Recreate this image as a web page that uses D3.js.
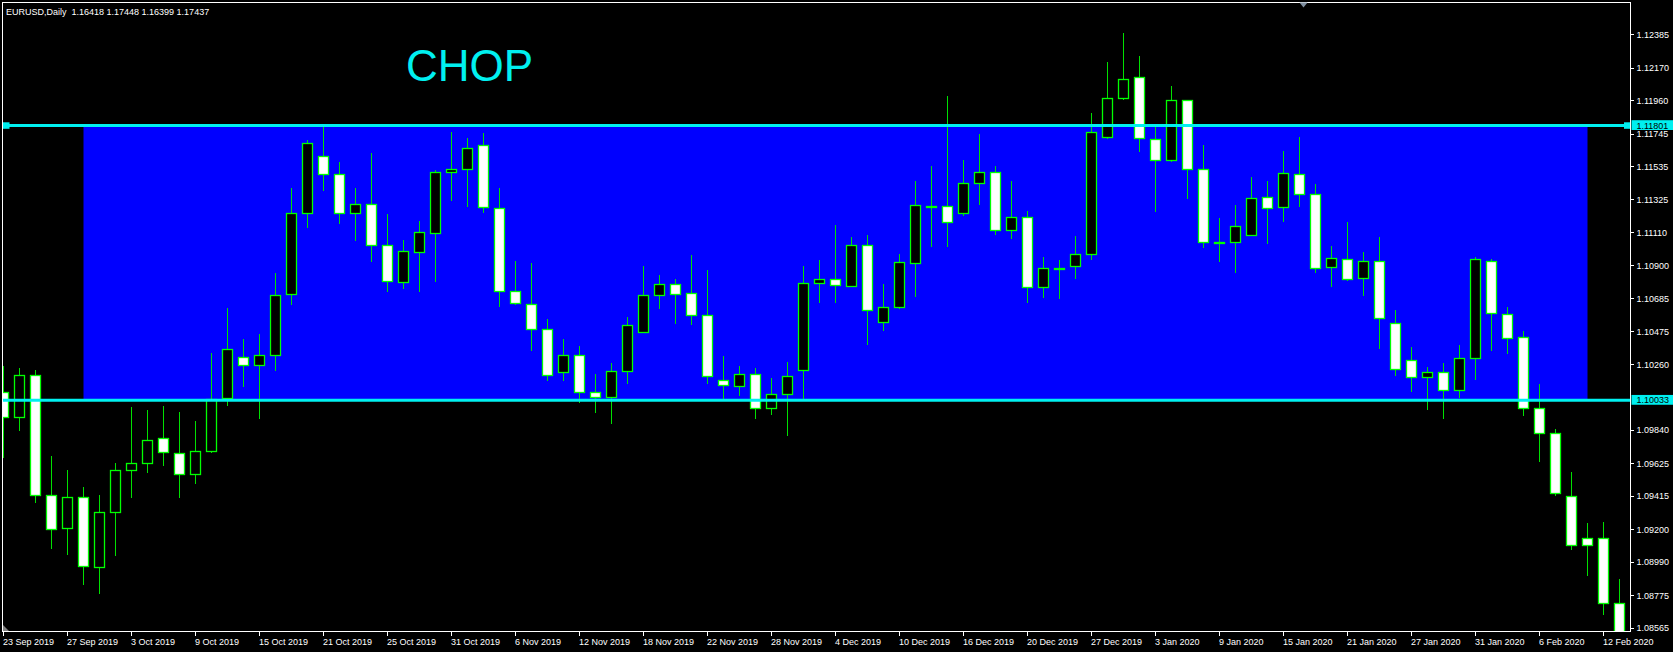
<!DOCTYPE html>
<html><head><meta charset="utf-8">
<script src="https://cdn.jsdelivr.net/npm/d3@7"></script>
<style>html,body{margin:0;padding:0;background:#000;overflow:hidden}svg{display:block}</style>
</head><body>
<script>
const dates = [
"23 Sep 2019","24 Sep 2019","25 Sep 2019","26 Sep 2019","27 Sep 2019","30 Sep 2019",
"1 Oct 2019","2 Oct 2019","3 Oct 2019","4 Oct 2019","7 Oct 2019","8 Oct 2019","9 Oct 2019","10 Oct 2019","11 Oct 2019",
"14 Oct 2019","15 Oct 2019","16 Oct 2019","17 Oct 2019","18 Oct 2019","21 Oct 2019","22 Oct 2019","23 Oct 2019","24 Oct 2019","25 Oct 2019",
"28 Oct 2019","29 Oct 2019","30 Oct 2019","31 Oct 2019",
"1 Nov 2019","4 Nov 2019","5 Nov 2019","6 Nov 2019","7 Nov 2019","8 Nov 2019","11 Nov 2019","12 Nov 2019","13 Nov 2019","14 Nov 2019","15 Nov 2019",
"18 Nov 2019","19 Nov 2019","20 Nov 2019","21 Nov 2019","22 Nov 2019","25 Nov 2019","26 Nov 2019","27 Nov 2019","28 Nov 2019","29 Nov 2019",
"2 Dec 2019","3 Dec 2019","4 Dec 2019","5 Dec 2019","6 Dec 2019","9 Dec 2019","10 Dec 2019","11 Dec 2019","12 Dec 2019","13 Dec 2019",
"16 Dec 2019","17 Dec 2019","18 Dec 2019","19 Dec 2019","20 Dec 2019","23 Dec 2019","24 Dec 2019","26 Dec 2019","27 Dec 2019","30 Dec 2019","31 Dec 2019",
"2 Jan 2020","3 Jan 2020","6 Jan 2020","7 Jan 2020","8 Jan 2020","9 Jan 2020","10 Jan 2020","13 Jan 2020","14 Jan 2020","15 Jan 2020","16 Jan 2020","17 Jan 2020",
"20 Jan 2020","21 Jan 2020","22 Jan 2020","23 Jan 2020","24 Jan 2020","27 Jan 2020","28 Jan 2020","29 Jan 2020","30 Jan 2020","31 Jan 2020",
"3 Feb 2020","4 Feb 2020","5 Feb 2020","6 Feb 2020","7 Feb 2020","10 Feb 2020","11 Feb 2020","12 Feb 2020","13 Feb 2020"
];
const open = [1.10088,1.09923,1.10195,1.09421,1.09208,1.09409,1.08959,1.09312,1.09582,1.09628,1.09793,1.09696,1.09557,1.09704,1.10045,1.10309,1.10259,1.10322,1.10717,1.11235,
1.11602,1.11488,1.11241,1.11299,1.11035,1.10791,1.10989,1.11111,1.11501,1.11518,1.11674,1.11269,1.10739,1.10653,1.10490,1.10213,1.10322,1.10083,1.10053,1.10221,
1.10470,1.10709,1.10778,1.10722,1.10579,1.10162,1.10127,1.10205,1.09986,1.10073,1.10226,1.10786,1.10811,1.10770,1.11035,1.10538,1.10630,1.10917,1.11284,1.11282,
1.11241,1.11429,1.11501,1.11126,1.11215,1.10760,1.10880,1.10900,1.10971,1.11724,1.11981,1.12116,1.11712,1.11582,1.11968,1.11518,1.11053,1.11050,1.11098,1.11338,
1.11274,1.11488,1.11358,1.10892,1.10941,1.10817,1.10926,1.10528,1.10295,1.10181,1.10217,1.10098,1.10308,1.10926,1.10585,1.10437,1.09982,1.09822,1.09414,1.09145,
1.09145,1.08726];
const high = [1.10253,1.10241,1.10228,1.09674,1.09584,1.09473,1.09421,1.09632,1.09989,1.09968,1.09999,1.09956,1.09898,1.10335,1.10627,1.10424,1.10457,1.10851,1.11399,1.11709,
1.11793,1.11569,1.11399,1.11625,1.11231,1.11065,1.11187,1.11513,1.11760,1.11722,1.11750,1.11399,1.10930,1.10915,1.10554,1.10427,1.10383,1.10203,1.10274,1.10569,
1.10898,1.10839,1.10813,1.10968,1.10872,1.10317,1.10253,1.10241,1.10177,1.10277,1.10898,1.10936,1.11162,1.11083,1.11096,1.10780,1.10973,1.11444,1.11541,1.11991,
1.11579,1.11747,1.11541,1.11444,1.11248,1.10956,1.10936,1.11091,1.11882,1.12210,1.12396,1.12248,1.11793,1.12055,1.11968,1.11678,1.11205,1.11289,1.11470,1.11444,
1.11638,1.11727,1.11424,1.11024,1.11180,1.10986,1.11084,1.10613,1.10375,1.10246,1.10270,1.10388,1.10954,1.10939,1.10636,1.10479,1.10138,1.09848,1.09571,1.09243,
1.09251,1.08883];
const low = [1.09661,1.09834,1.09371,1.09078,1.09040,1.08842,1.08786,1.09032,1.09401,1.09562,1.09612,1.09401,1.09497,1.09696,1.09999,1.10121,1.09910,1.10221,1.10648,1.11144,
1.11381,1.11170,1.11055,1.10925,1.10727,1.10752,1.10732,1.10795,1.11312,1.11279,1.11241,1.10630,1.10648,1.10352,1.10159,1.10159,1.10017,1.09948,1.09882,1.10139,
1.10468,1.10623,1.10526,1.10520,1.10139,1.10037,1.10063,1.09915,1.09936,1.09806,1.10037,1.10656,1.10658,1.10762,1.10389,1.10477,1.10620,1.10696,1.11019,1.11019,
1.11221,1.11287,1.11098,1.11068,1.10661,1.10694,1.10686,1.10816,1.10933,1.11712,1.11968,1.11632,1.11246,1.11569,1.11330,1.11014,1.10925,1.10849,1.11098,1.11040,
1.11182,1.11274,1.10854,1.10762,1.10800,1.10701,1.10360,1.10192,1.10088,1.09972,1.09915,1.10049,1.10166,1.10352,1.10329,1.09933,1.09638,1.09414,1.09072,1.08904,
1.08649,1.08510];
const close = [1.09923,1.10195,1.09421,1.09203,1.09409,1.08966,1.09312,1.09582,1.09628,1.09775,1.09699,1.09557,1.09704,1.10042,1.10360,1.10259,1.10322,1.10712,1.11235,1.11691,
1.11488,1.11241,1.11299,1.11035,1.10798,1.10991,1.11114,1.11501,1.11518,1.11653,1.11274,1.10735,1.10658,1.10490,1.10195,1.10322,1.10086,1.10053,1.10221,1.10515,
1.10709,1.10778,1.10717,1.10579,1.10187,1.10129,1.10205,1.09981,1.10071,1.10187,1.10786,1.10811,1.10773,1.11035,1.10612,1.10630,1.10920,1.11289,1.11285,1.11182,
1.11429,1.11501,1.11126,1.11210,1.10760,1.10882,1.10881,1.10971,1.11757,1.11981,1.12103,1.11719,1.11582,1.11968,1.11518,1.11050,1.11054,1.11152,1.11333,1.11269,
1.11493,1.11358,1.10887,1.10946,1.10816,1.10926,1.10562,1.10233,1.10181,1.10212,1.10098,1.10308,1.10939,1.10593,1.10432,1.09982,1.09822,1.09439,1.09100,1.09100,
1.08726,1.08530];
const priceTicks = [1.12385,1.12170,1.11960,1.11745,1.11535,1.11325,1.11110,1.10900,1.10685,1.10475,1.10260,1.09840,1.09625,1.09415,1.09200,1.08990,1.08775,1.08565];
const levels = [1.11801, 1.10033];
const zoneDates = ["30 Sep 2019", "11 Feb 2020"];
const zonePrices = [1.11801, 1.10033];
const headerText = "EURUSD,Daily  1.16418 1.17448 1.16399 1.17437";
const zoneLabel = "CHOP";

const W = 1673, H = 652;
const L = 2.5, T = 2.5, R = 1630.5, B = 631.5;
const FONT = "'Liberation Sans', Arial, sans-serif";
const CYAN = "#00F0F0", LIME = "#00FF00";

const svg = d3.select("body").append("svg").attr("width", W).attr("height", H)
  .style("background", "#000");

const x = d3.scaleBand().domain(dates).range([-4.5, -4.5 + 16 * dates.length]).padding(0);
const cx = d => x(d) + x.bandwidth() / 2;
const y = d3.scaleLinear().domain([1.085481, 1.125957]).range([631, 2]);

svg.append("defs").append("clipPath").attr("id", "plot")
  .append("rect").attr("x", 3).attr("y", 3).attr("width", R - 3).attr("height", B - 3);

const plot = svg.append("g").attr("clip-path", "url(#plot)");

// zone rectangle
plot.append("rect")
  .attr("x", cx(zoneDates[0])).attr("width", cx(zoneDates[1]) - cx(zoneDates[0]))
  .attr("y", y(zonePrices[0])).attr("height", y(zonePrices[1]) - y(zonePrices[0]))
  .attr("fill", "#0000FF");

const bars = dates.map((d, i) => ({d, o: open[i], h: high[i], l: low[i], c: close[i]}));

// wicks
plot.append("g").selectAll("line").data(bars).join("line")
  .attr("x1", b => cx(b.d)).attr("x2", b => cx(b.d))
  .attr("y1", b => Math.round(y(b.h))).attr("y2", b => Math.round(y(b.l)))
  .attr("stroke", "#00E000").attr("stroke-width", 1).attr("shape-rendering", "crispEdges");

// bodies
plot.append("g").selectAll("rect").data(bars).join("rect")
  .attr("x", b => cx(b.d) - 5).attr("width", 10)
  .attr("y", b => Math.round(y(Math.max(b.o, b.c))) + 0.5)
  .attr("height", b => Math.max(Math.round(y(Math.min(b.o, b.c))) - Math.round(y(Math.max(b.o, b.c))), 1))
  .attr("fill", b => b.c > b.o ? "#000" : "#FFF")
  .attr("stroke", LIME).attr("stroke-width", 1.3);

// horizontal levels
plot.append("g").selectAll("line").data(levels).join("line")
  .attr("x1", 3).attr("x2", R).attr("y1", d => y(d)).attr("y2", d => y(d))
  .attr("stroke", CYAN).attr("stroke-width", 3);

// selection handles on the top level
svg.append("g").selectAll("rect").data([3, R - 6.5]).join("rect")
  .attr("x", d => d).attr("y", y(levels[0]) - 3.2).attr("width", 6.5).attr("height", 6.5)
  .attr("fill", CYAN);

// frame
svg.append("rect").attr("x", L).attr("y", T).attr("width", R - L).attr("height", B - T)
  .attr("fill", "none").attr("stroke", "#FFF").attr("stroke-width", 1);

// right price axis
const yAxis = d3.axisRight(y).tickValues(priceTicks).tickFormat(d3.format(".5f"))
  .tickSize(3).tickPadding(3).offset(0);
const gy = svg.append("g").attr("transform", `translate(${R},0)`).call(yAxis);
gy.select(".domain").remove();
gy.selectAll(".tick line").attr("stroke", "#FFF").attr("shape-rendering", "crispEdges");
gy.selectAll(".tick text").attr("fill", "#FFF").attr("font-family", FONT).attr("font-size", 9)
  .attr("dy", "0.34em");

// highlighted level labels
const hl = svg.append("g").selectAll("g").data(levels).join("g");
hl.append("rect").attr("x", R + 1).attr("y", d => y(d) - 5.3).attr("width", W - R).attr("height", 9.8)
  .attr("fill", CYAN);
hl.append("text").attr("x", R + 6).attr("y", d => y(d)).attr("dy", "0.34em")
  .attr("font-family", FONT).attr("font-size", 9).attr("fill", "#000")
  .text(d => d3.format(".5f")(d));

// bottom date axis
const xAxis = d3.axisBottom(x).tickValues(dates.filter((d, i) => i % 4 === 0))
  .tickSize(4).offset(0);
const gx = svg.append("g").attr("transform", `translate(0,${B})`).call(xAxis);
gx.select(".domain").remove();
gx.selectAll(".tick line").attr("stroke", "#FFF").attr("shape-rendering", "crispEdges");
gx.selectAll(".tick text").attr("fill", "#FFF").attr("font-family", FONT).attr("font-size", 9)
  .attr("text-anchor", "start").attr("x", -0.5).attr("y", 13).attr("dy", 0);

// header
svg.append("text").attr("x", 6).attr("y", 14.5).style("white-space", "pre")
  .attr("font-family", FONT).attr("font-size", 9).attr("fill", "#FFF").text(headerText);

// zone label
svg.append("text").attr("x", 406).attr("y", 80.5)
  .attr("font-family", FONT).attr("font-size", 44).attr("fill", CYAN).text(zoneLabel);

// small markers
svg.append("path").attr("d", `M1299.5,2.5 L1307.5,2.5 L1303.5,7.5 Z`).attr("fill", "#7F8FA0");
svg.append("path").attr("d", `M3,625 L3,631 L9,631 Z`).attr("fill", "#808080");
</script>
</body></html>
